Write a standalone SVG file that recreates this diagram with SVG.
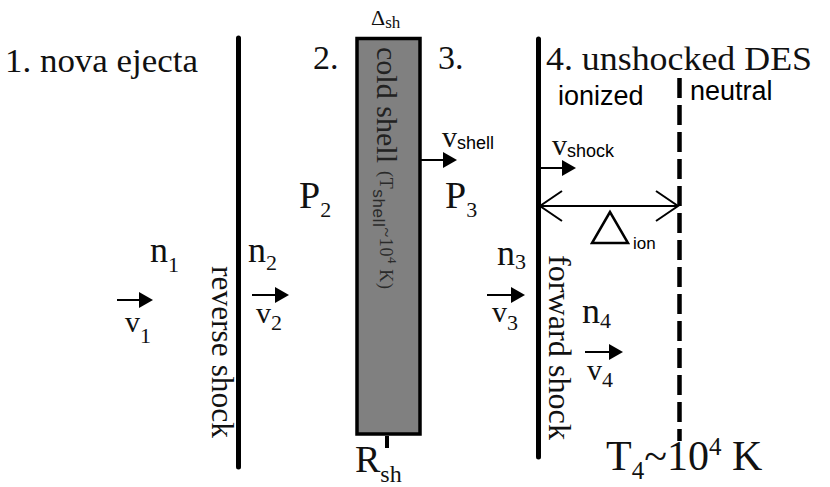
<svg xmlns="http://www.w3.org/2000/svg" width="830" height="487" viewBox="0 0 830 487">
<style>
.serif{font-family:"Liberation Serif","Times New Roman",serif;fill:#111}
.sans{font-family:"Liberation Sans",Arial,sans-serif;fill:#000}
.big{font-size:34px}
.lab{font-size:38px}
.nn{font-size:36px}
.vv{font-size:30px}
.sub{font-size:22px}
.shock{stroke:#000;stroke-width:5;stroke-linecap:round;fill:none}
.arr{stroke:#000;stroke-width:2;fill:none}
</style>
<defs>
<marker id="ah" viewBox="0 0 14 16" refX="10" refY="8" markerWidth="14" markerHeight="16" markerUnits="userSpaceOnUse" orient="auto">
<path d="M0,0 L14,8 L0,16 Z" fill="#000"/>
</marker>
<marker id="chev" viewBox="-24 -17 26 34" refX="0" refY="0" markerWidth="26" markerHeight="34" markerUnits="userSpaceOnUse" orient="auto-start-reverse">
<path d="M-22,-15 L0,0 L-22,15" fill="none" stroke="#000" stroke-width="2"/>
</marker>
</defs>
<rect width="830" height="487" fill="#fff"/>

<g id="region1">
<text class="serif big" x="5" y="72" textLength="193" lengthAdjust="spacingAndGlyphs">1. nova ejecta</text>
<text class="serif nn" x="150" y="262">n<tspan class="sub" dy="10">1</tspan></text>
<text class="serif vv" x="125" y="332">v<tspan class="sub" dy="11">1</tspan></text>
</g>

<g id="reverse-shock">
<line class="shock" x1="238.5" y1="38" x2="238.5" y2="467"/>
<text class="serif" font-size="32" transform="translate(212,266) rotate(90)" textLength="172" lengthAdjust="spacingAndGlyphs">reverse shock</text>
</g>

<g id="region2">
<text class="serif big" x="313" y="69">2.</text>
<text class="serif nn" x="248" y="262">n<tspan class="sub" dy="8">2</tspan></text>
<text class="serif vv" x="256" y="323">v<tspan class="sub" dy="7">2</tspan></text>
<text class="serif lab" x="299" y="208">P<tspan class="sub" font-size="24" dy="9">2</tspan></text>
</g>

<g id="cold-shell">
<rect x="357" y="38.5" width="63" height="395.5" fill="#808080" stroke="#000" stroke-width="3.5"/>
<line x1="387" y1="436" x2="387" y2="448" stroke="#000" stroke-width="4"/>
<text class="serif" font-size="30" style="fill:#222" transform="translate(377,47) rotate(90)" textLength="116" lengthAdjust="spacingAndGlyphs">cold shell</text>
<text class="serif" font-size="18" style="fill:#2a2a2a" transform="translate(380,171) rotate(90)" textLength="118" lengthAdjust="spacing">(T<tspan class="sans" style="fill:#2a2a2a" font-size="17" dy="7">shell</tspan><tspan dy="-7">~10</tspan><tspan font-size="13" dy="-8">4</tspan><tspan dy="8"> K)</tspan></text>
<text class="serif" font-size="22" x="371" y="25">Δ<tspan font-size="17" dy="3">sh</tspan></text>
<text class="serif lab" x="355" y="472">R<tspan font-size="24" dy="10">sh</tspan></text>
<text class="serif vv" x="442" y="147">v<tspan class="sans" font-size="18" dy="2">shell</tspan></text>
</g>

<g id="region3">
<text class="serif big" x="438" y="69">3.</text>
<text class="serif lab" x="445" y="208">P<tspan class="sub" font-size="24" dy="9">3</tspan></text>
<text class="serif nn" x="497" y="265">n<tspan class="sub" dy="4">3</tspan></text>
<text class="serif vv" x="492" y="322">v<tspan class="sub" dy="8">3</tspan></text>
</g>

<g id="forward-shock">
<line class="shock" x1="538.5" y1="39" x2="538.5" y2="457"/>
<text class="serif" font-size="32" transform="translate(549,255) rotate(90)" textLength="185" lengthAdjust="spacingAndGlyphs">forward shock</text>
<text class="serif vv" x="552" y="155">v<tspan class="sans" font-size="18" dy="2">shock</tspan></text>
</g>

<g id="region4">
<text class="serif big" x="546" y="70" textLength="266" lengthAdjust="spacingAndGlyphs">4. unshocked DES</text>
<text class="sans" font-size="27" x="558" y="105">ionized</text>
<text class="sans" font-size="27" x="690" y="100">neutral</text>
<text class="serif nn" x="582" y="323">n<tspan class="sub" dy="5">4</tspan></text>
<text class="serif vv" x="587" y="380">v<tspan class="sub" dy="7">4</tspan></text>
<text class="serif" font-size="42" x="606" y="470">T<tspan font-size="25" dy="9">4</tspan><tspan dy="-9">~10</tspan><tspan font-size="25" dy="-15">4</tspan><tspan dy="15"> K</tspan></text>
</g>

<g id="ionization-front">
<line x1="679.5" y1="78" x2="679.5" y2="441" stroke="#000" stroke-width="4.5" stroke-dasharray="20 7"/>
<polygon points="610,212 592,243 628,243" fill="none" stroke="#000" stroke-width="2.5" stroke-linejoin="miter"/>
<text class="sans" font-size="17" x="633" y="249">ion</text>
</g>

<g id="connectors">
<line class="arr" x1="117" y1="300" x2="149" y2="300" marker-end="url(#ah)"/>
<line class="arr" x1="252" y1="295" x2="285" y2="295" marker-end="url(#ah)"/>
<line class="arr" x1="421" y1="160" x2="453" y2="160" marker-end="url(#ah)"/>
<line class="arr" x1="487" y1="295" x2="521" y2="295" marker-end="url(#ah)"/>
<line class="arr" x1="540" y1="168" x2="572" y2="168" marker-end="url(#ah)"/>
<line class="arr" x1="585" y1="352" x2="619" y2="352" marker-end="url(#ah)"/>
<line class="arr" x1="540" y1="206" x2="678" y2="206" marker-start="url(#chev)" marker-end="url(#chev)"/>
</g>
</svg>
